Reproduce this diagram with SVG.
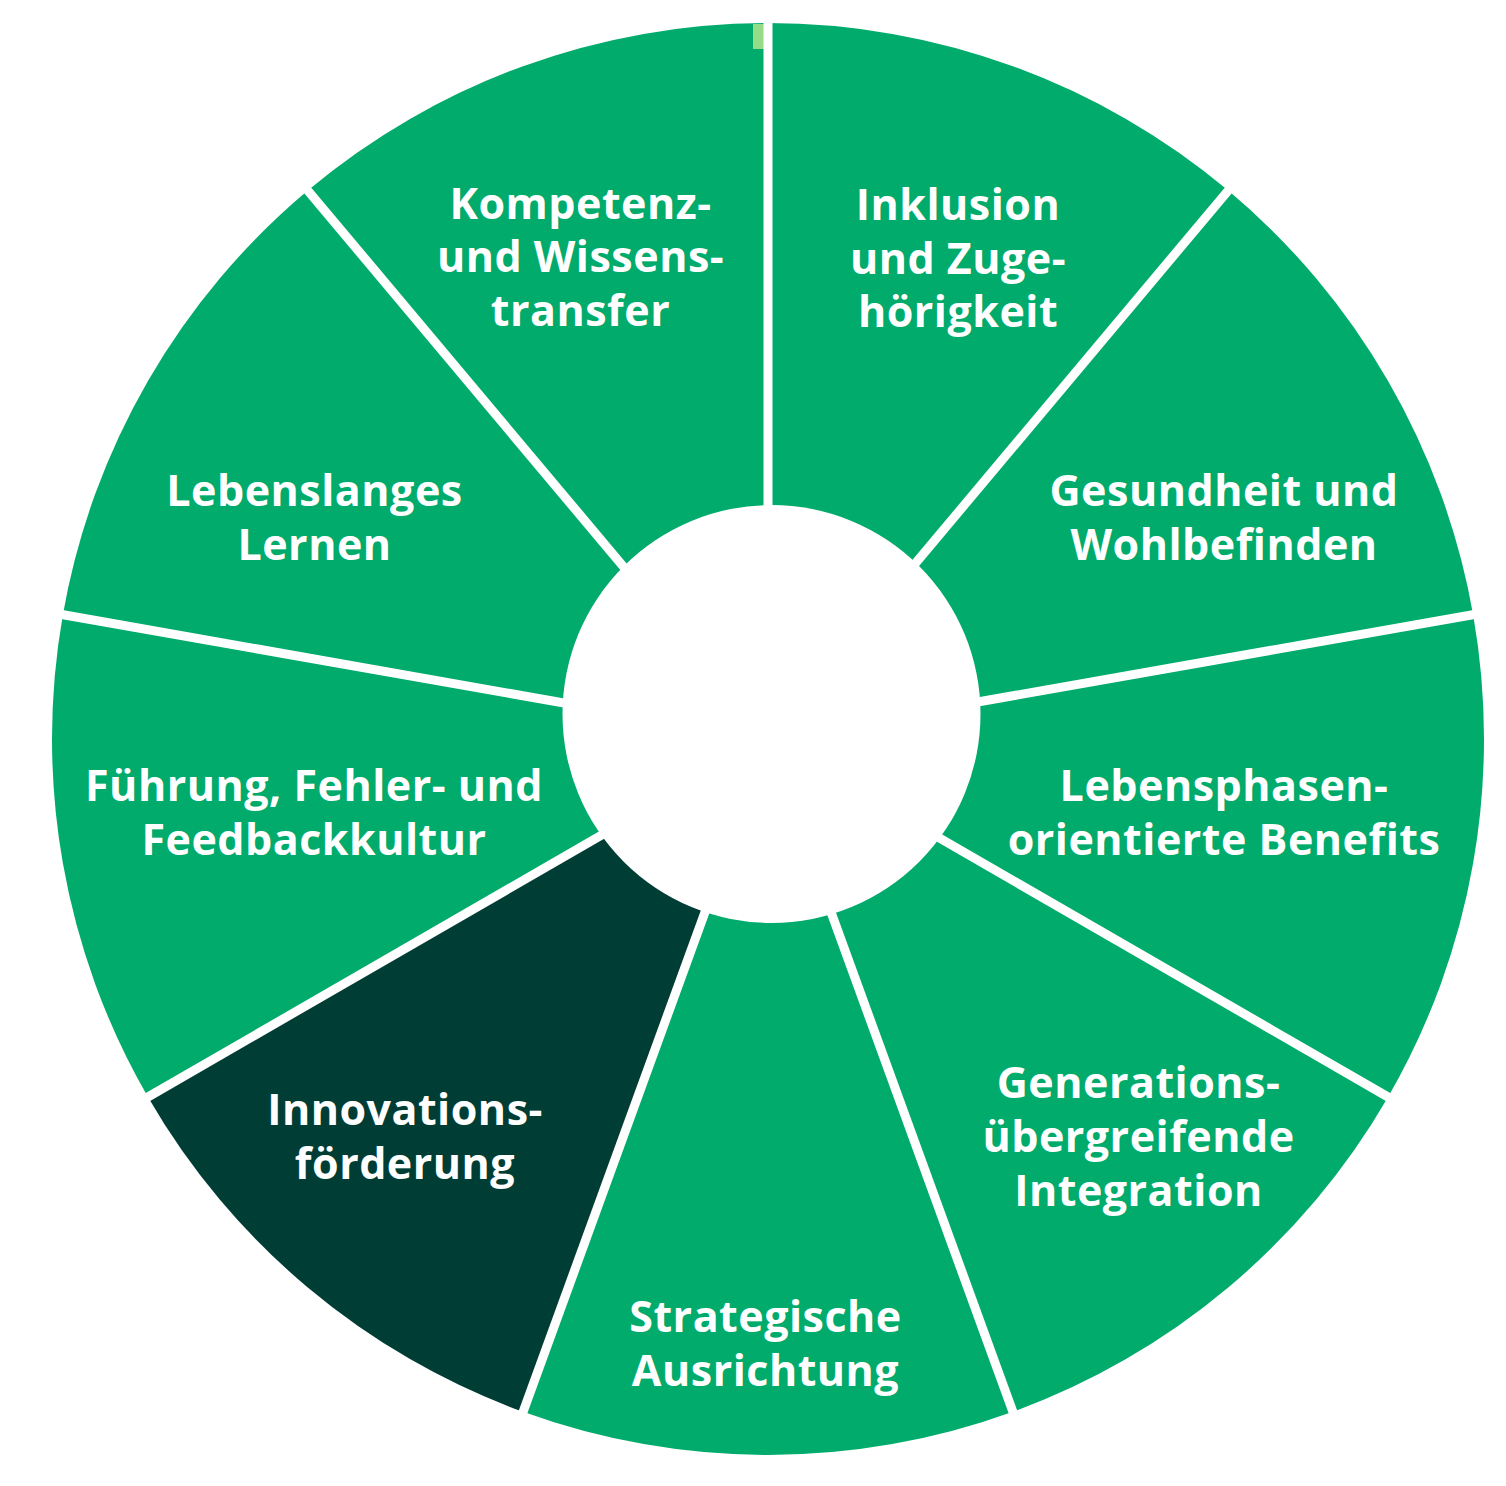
<svg xmlns="http://www.w3.org/2000/svg" width="1506" height="1486" viewBox="0 0 1506 1486">
<style>
.seg{fill:#00AB6C}
.dark{fill:#003E35}
.sep{stroke:#FFFFFF;stroke-width:9;fill:none}
.lbl{font-family:"Open Sans","Liberation Sans",sans-serif;font-weight:700;font-size:43px;fill:#FFFFFF;text-anchor:middle;letter-spacing:0.5px}
</style>
<rect x="0" y="0" width="1506" height="1486" fill="#FFFFFF"/>
<g id="seg-inklusion">
<path class="seg" d="M768,739 L768,23 A716,716 0 0 1 1228.24,190.51 Z"/>
<text class="lbl" x="958" y="220">Inklusion</text>
<text class="lbl" x="958" y="273.5">und Zuge-</text>
<text class="lbl" x="958" y="327">hörigkeit</text>
</g>
<g id="seg-gesundheit">
<path class="seg" d="M768,739 L1228.24,190.51 A716,716 0 0 1 1473.12,614.67 Z"/>
<text class="lbl" x="1224" y="506">Gesundheit und</text>
<text class="lbl" x="1224" y="559.5">Wohlbefinden</text>
</g>
<g id="seg-lebensphasen">
<path class="seg" d="M768,739 L1473.12,614.67 A716,716 0 0 1 1388.07,1097 Z"/>
<text class="lbl" x="1224" y="801">Lebensphasen-</text>
<text class="lbl" x="1224" y="854.5">orientierte Benefits</text>
</g>
<g id="seg-generationen">
<path class="seg" d="M768,739 L1388.07,1097 A716,716 0 0 1 1012.89,1411.82 Z"/>
<text class="lbl" x="1138.5" y="1097.5">Generations-</text>
<text class="lbl" x="1138.5" y="1151.5">übergreifende</text>
<text class="lbl" x="1138.5" y="1205.5">Integration</text>
</g>
<g id="seg-strategie">
<path class="seg" d="M768,739 L1012.89,1411.82 A716,716 0 0 1 523.11,1411.82 Z"/>
<text class="lbl" x="765.5" y="1332">Strategische</text>
<text class="lbl" x="765.5" y="1386">Ausrichtung</text>
</g>
<g id="seg-innovation">
<path class="dark" d="M768,739 L523.11,1411.82 A716,716 0 0 1 147.93,1097 Z"/>
<text class="lbl" x="405" y="1125">Innovations-</text>
<text class="lbl" x="405" y="1178.5">förderung</text>
</g>
<g id="seg-fuehrung">
<path class="seg" d="M768,739 L147.93,1097 A716,716 0 0 1 62.88,614.67 Z"/>
<text class="lbl" x="314" y="801">Führung, Fehler- und</text>
<text class="lbl" x="314" y="854.5">Feedbackkultur</text>
</g>
<g id="seg-lernen">
<path class="seg" d="M768,739 L62.88,614.67 A716,716 0 0 1 307.76,190.51 Z"/>
<text class="lbl" x="314.5" y="506">Lebenslanges</text>
<text class="lbl" x="314.5" y="559.5">Lernen</text>
</g>
<g id="seg-kompetenz">
<path class="seg" d="M768,739 L307.76,190.51 A716,716 0 0 1 768,23 Z"/>
<rect x="753" y="24" width="11.5" height="25" fill="#94DC88"/>
<text class="lbl" x="580.5" y="218.5">Kompetenz-</text>
<text class="lbl" x="580.5" y="272">und Wissens-</text>
<text class="lbl" x="580.5" y="326">transfer</text>
</g>
<g id="separators">
<line class="sep" x1="768" y1="739" x2="768" y2="10"/>
<line class="sep" x1="768" y1="739" x2="1237.2" y2="179.8"/>
<line class="sep" x1="768" y1="739" x2="1487" y2="612.2"/>
<line class="sep" x1="768" y1="739" x2="1400.2" y2="1104"/>
<line class="sep" x1="768" y1="739" x2="1017.7" y2="1425"/>
<line class="sep" x1="768" y1="739" x2="518.3" y2="1425"/>
<line class="sep" x1="768" y1="739" x2="135.8" y2="1104"/>
<line class="sep" x1="768" y1="739" x2="49" y2="612.2"/>
<line class="sep" x1="768" y1="739" x2="298.8" y2="179.8"/>
</g>
<circle id="hub" cx="771.5" cy="714" r="209" fill="#FFFFFF"/>
</svg>
